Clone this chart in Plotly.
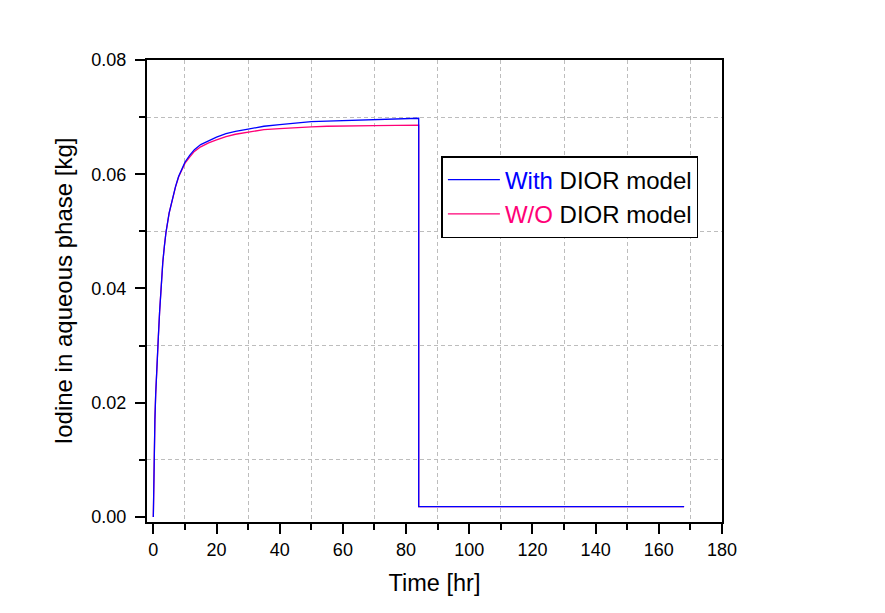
import plotly.graph_objects as go

time_hr = [0, 0.15, 0.3, 0.5, 0.75, 1.0, 1.3, 1.6, 2.0, 2.5, 3.0, 3.5, 4.0, 5.0, 6.0, 7.0, 8.0, 9.0,
           10, 11.5, 13, 15, 17.5, 20, 23, 26, 30, 35, 40, 45, 50, 55, 60, 70, 84,
           84, 100, 120, 140, 168]
with_dior = [0, 0.0065, 0.0125, 0.0170, 0.0215, 0.0252, 0.0285, 0.0316, 0.0360, 0.0408, 0.0446, 0.0474,
             0.0498, 0.0532, 0.0557, 0.0578, 0.0596, 0.0610,
             0.0621, 0.0633, 0.0643, 0.0652, 0.0659, 0.0665, 0.0671, 0.0675, 0.0679, 0.0684, 0.0687,
             0.0690, 0.0692, 0.0693, 0.0694, 0.0696, 0.0698,
             0.0018, 0.0018, 0.0018, 0.0018, 0.0018]
wo_dior = [0, 0.0065, 0.0125, 0.0170, 0.0215, 0.0252, 0.0285, 0.0316, 0.0360, 0.0408, 0.0446, 0.0474,
           0.0498, 0.0532, 0.0557, 0.0577, 0.0595, 0.0608,
           0.0619, 0.0630, 0.0640, 0.0648, 0.0655, 0.0660, 0.0666, 0.0670, 0.0674, 0.0678, 0.0680,
           0.0682, 0.0683, 0.0684, 0.0684, 0.0685, 0.0686,
           0.0018, 0.0018, 0.0018, 0.0018, 0.0018]

x_ticks = [0, 20, 40, 60, 80, 100, 120, 140, 160, 180]
x_minor = [10, 30, 50, 70, 90, 110, 130, 150, 170]
y_ticks = [0.00, 0.02, 0.04, 0.06, 0.08]
y_minor = [0.01, 0.03, 0.05, 0.07]

BLUE = "#0000ff"
PINK = "#ff0077"
FONT = "Liberation Sans, Arial, sans-serif"

fig = go.Figure()
fig.add_trace(go.Scatter(
    x=time_hr, y=wo_dior, mode="lines",
    line=dict(color=PINK, width=1.3),
    name=f"<span style='color:{PINK}'>W/O</span> DIOR model",
    legendrank=2,
))
fig.add_trace(go.Scatter(
    x=time_hr, y=with_dior, mode="lines",
    line=dict(color=BLUE, width=1.3),
    name=f"<span style='color:{BLUE}'>With</span> DIOR model",
    legendrank=1,
))

axis_common = dict(
    showline=True, linecolor="black", linewidth=2, mirror=True,
    ticks="outside", ticklen=10, tickwidth=1.5, tickcolor="black",
    showgrid=False, zeroline=False,
    tickfont=dict(family=FONT, size=18, color="black"),
)
minor_common = dict(ticks="outside", ticklen=6, tickcolor="black", tickwidth=1.5,
                    showgrid=True, gridcolor="#bdbdbd", griddash="4px,3px", gridwidth=1)

fig.update_xaxes(
    **axis_common,
    range=[-2, 180],
    tickvals=x_ticks,
    ticktext=[str(v) for v in x_ticks],
    title=dict(text="Time [hr]", font=dict(family=FONT, size=23.5, color="black"), standoff=16),
    minor=dict(tickvals=x_minor, **minor_common),
)
fig.update_yaxes(
    **axis_common,
    range=[-0.00088, 0.08],
    tickvals=y_ticks,
    ticktext=[f"{v:.2f}" for v in y_ticks],
    ticklabelstandoff=5,
    title=dict(text="Iodine in aqueous phase [kg]", font=dict(family=FONT, size=24, color="black"), standoff=12),
    minor=dict(tickvals=y_minor, **minor_common),
)

fig.update_layout(
    width=885, height=613,
    margin=dict(l=147, r=163, t=60, b=91, autoexpand=False),
    paper_bgcolor="white", plot_bgcolor="white",
    showlegend=True,
    legend=dict(
        x=0.512, y=0.792, xanchor="left", yanchor="top",
        bgcolor="white", bordercolor="black", borderwidth=1.5,
        font=dict(family=FONT, size=24, color="black"),
        itemwidth=52, tracegroupgap=0,
    ),
)

fig.write_html("out.html")
